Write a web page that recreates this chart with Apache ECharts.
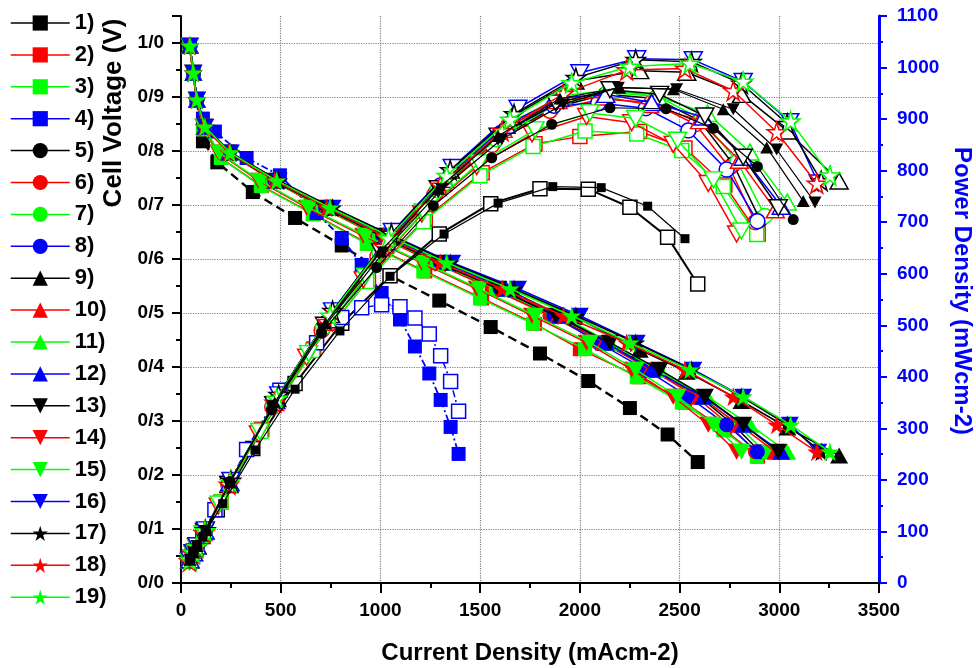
<!DOCTYPE html>
<html><head><meta charset="utf-8">
<script src="https://cdn.jsdelivr.net/npm/echarts@6/dist/echarts.min.js"></script>
<style>html,body{margin:0;padding:0;background:#fff}#c{width:976px;height:668px}</style>
</head><body><div id="c"></div>
<script>
// ---------- DATA ----------
const seriesNames = ['1)','2)','3)','4)','5)','6)','7)','8)','9)','10)','11)','12)','13)','14)','15)','16)','17)','18)','19)'];
const xTicks = [0,500,1000,1500,2000,2500,3000,3500];
const vTicks = [0,0.1,0.2,0.3,0.4,0.5,0.6,0.7,0.8,0.9,1.0];
const pTicks = [0,100,200,300,400,500,600,700,800,900,1000,1100];

// voltage steps (V)
const vStd  = [0.995,0.945,0.895,0.845,0.797,0.745,0.695,0.643,0.593,0.545,0.495,0.445,0.395,0.345,0.293,0.243];
const vSq   = [0.995,0.945,0.895,0.840,0.787,0.735,0.683,0.628,0.577,0.527,0.480,0.433,0.381,0.334,0.283,0.234];
const volt1 = [0.995,0.945,0.895,0.818,0.779,0.724,0.676,0.625,0.569,0.523,0.474,0.425,0.374,0.324,0.275,0.224];
const volt4 = [0.995,0.945,0.895,0.860,0.836,0.787,0.755,0.685,0.639,0.589,0.537,0.488,0.438,0.388,0.339,0.289,0.239];
const volt9 = [0.995,0.945,0.895,0.845,0.797,0.745,0.695,0.643,0.593,0.545,0.493,0.432,0.391,0.337,0.288,0.236];

// current densities (mA cm-2)
const cur1  = [45,62,78,110,182,360,572,806,1048,1295,1553,1800,2042,2251,2440,2591];
const cur2  = [42,60,78,110,200,405,665,940,1225,1510,1775,2000,2300,2527,2727,2894];
const cur3  = [42,60,78,110,200,400,660,931,1215,1499,1765,2026,2285,2511,2719,2887];
const cur4  = [45,62,80,110,170,329,496,680,806,906,1006,1098,1173,1245,1302,1352,1392];
const cur5  = [45,62,80,118,240,460,710,990,1280,1570,1860,2130,2380,2600,2770,2903];
const cur6  = [45,62,80,118,238,458,705,985,1270,1560,1850,2110,2360,2580,2750,2880];
const cur7  = [45,62,80,118,240,462,712,995,1285,1580,1870,2140,2390,2610,2790,2928];
const cur8  = [45,62,80,118,242,470,725,1010,1300,1600,1870,2092,2331,2544,2736,2890];
const cur9  = [45,62,80,120,240,480,750,1050,1350,1660,1975,2300,2536,2811,3040,3300];
const cur10 = [45,62,80,118,242,470,728,1020,1310,1615,1890,2120,2350,2600,2800,2980];
const cur11 = [45,62,80,120,245,475,735,1030,1320,1630,1910,2150,2390,2640,2853,3040];
const cur12 = [45,62,80,120,245,475,735,1030,1320,1630,1900,2130,2360,2619,2819,3010];
const cur13 = [45,62,80,118,240,465,720,1000,1290,1590,1880,2151,2400,2627,2819,2995];
const cur14 = [42,60,78,112,187,388,630,914,1207,1483,1760,2034,2260,2468,2644,2786];
const cur15 = [42,60,78,112,192,395,640,925,1215,1495,1775,2050,2280,2490,2670,2810];
const cur16 = [45,62,80,122,250,490,760,1060,1360,1690,2000,2285,2569,2819,3053,3195];
const cur17 = [45,62,80,122,250,490,760,1055,1350,1670,1980,2280,2560,2810,3040,3210];
const cur18 = [42,60,77,115,240,470,730,1015,1300,1610,1917,2235,2527,2769,2987,3188];
const cur19 = [45,62,79,120,246,480,747,1040,1332,1650,1959,2251,2552,2819,3057,3254];

// power densities (mW cm-2)
const pow1  = [45,59,70,90,142,261,387,504,596,677,736,765,764,729,671,580];
const pow2  = [42,57,70,92,157,298,454,590,707,796,852,866,876,844,772,677];
const pow3  = [42,57,70,92,157,294,451,585,701,790,847,877,871,839,769,676];
const pow4  = [45,59,72,95,142,259,374,466,515,534,540,536,514,483,441,391,333];
const pow5  = [45,59,72,100,191,343,493,637,759,856,921,948,940,897,812,705];
const pow6  = [45,59,72,100,190,341,490,633,753,850,916,939,932,890,806,700];
const pow7  = [45,59,72,100,191,344,495,640,762,861,926,952,944,900,817,712];
const pow8  = [45,59,72,100,193,350,504,649,771,872,926,931,921,878,802,702];
const pow9  = [45,59,72,101,191,358,521,675,801,905,974,994,991,948,877,780];
const pow10 = [45,59,72,100,193,350,506,656,777,880,936,943,928,897,820,724];
const pow11 = [45,59,72,101,195,354,511,662,783,888,945,957,944,911,836,739];
const pow12 = [45,59,72,101,195,354,511,662,783,888,941,948,932,904,826,731];
const pow13 = [45,59,72,100,191,346,500,643,765,867,931,957,948,906,826,728];
const pow14 = [42,57,70,95,149,289,438,588,716,808,871,905,893,851,775,677];
const pow15 = [42,57,70,95,153,294,445,595,720,815,879,912,901,859,782,683];
const pow16 = [45,59,72,103,199,365,528,682,806,921,990,1017,1015,973,895,776];
const pow17 = [45,59,72,103,199,365,528,678,801,910,980,1015,1011,969,891,780];
const pow18 = [42,57,69,97,191,350,507,653,771,877,949,995,998,955,875,775];
const pow19 = [45,59,71,101,196,358,519,669,790,899,970,1002,1008,973,896,791];

// extra black filled power curves visible in the figure
const dupSqCur   = [45,62,78,110,209,371,572,797,1048,1319,1590,1864,2107,2340,2527];
const dupSqPow   = [45,59,70,90,154,258,376,489,595,677,737,769,767,731,668];
const dupCirCur  = [45,62,80,125,246,455,705,981,1265,1558,1859,2151,2432,2669,2890,3070];
const dupCirPow  = [45,59,72,100,197,336,485,612,732,825,890,922,920,882,808,705];
const dupTriCur  = [45,62,80,122,245,470,725,1000,1290,1590,1900,2200,2469,2719,2937,3120];
const dupTriPow  = [45,59,72,103,195,350,504,643,765,867,940,961,958,919,845,741];
const dupDTriCur = [45,62,80,120,240,460,710,1014,1307,1608,1917,2193,2485,2769,2987,3179];
const dupDTriPow = [45,59,72,101,191,343,493,641,764,861,929,961,958,919,841,738];

// ---------- BUILD ----------
const currents = [cur1,cur2,cur3,cur4,cur5,cur6,cur7,cur8,cur9,cur10,cur11,cur12,cur13,cur14,cur15,cur16,cur17,cur18,cur19];
const voltages = [volt1,vSq,vSq,volt4,vStd,vStd,vStd,vStd,volt9,vStd,vStd,vStd,vStd,vStd,vStd,vStd,vStd,vStd,vStd];
const powers   = [pow1,pow2,pow3,pow4,pow5,pow6,pow7,pow8,pow9,pow10,pow11,pow12,pow13,pow14,pow15,pow16,pow17,pow18,pow19];

const FONT = '"Liberation Sans", Arial, Helvetica, sans-serif';
const colors = ['#000000','#ff0000','#00ff00','#0000ff'];
const STAR = 'path://M50,0L61.2,34.5L97.6,34.5L68.2,55.9L79.4,90.5L50,69.1L20.6,90.5L31.8,55.9L2.4,34.5L38.8,34.5Z';
const DTRI = 'path://M0,0L100,0L50,86.6Z';
const shapes = ['rect','circle','triangle',DTRI,STAR];
const sizes  = [14,15,[18,16],[18,16],19];
const pair = (xs, ys) => xs.map((x, k) => [x, ys[k]]);

const series = [];
const powerSeries = [];
for (let i = 0; i < 19; i++) {
  const c = colors[i % 4];
  const s = Math.min(Math.floor(i / 4), 4);
  let lt = 'solid', lw = 1.5;
  if (i === 0) { lt = [9,5]; lw = 2.4; }
  if (i === 3) { lt = [7,3,2,3]; lw = 1.8; }
  series.push({
    name: seriesNames[i], type: 'line', yAxisIndex: 0,
    data: pair(currents[i], voltages[i]),
    symbol: shapes[s], symbolSize: sizes[s], symbolKeepAspect: false,
    itemStyle: { color: c },
    lineStyle: { color: c, width: lw, type: lt },
    z: 3 + i * 0.01, animation: false
  });
  powerSeries.push({
    name: seriesNames[i] + ' P', type: 'line', yAxisIndex: 1,
    data: pair(currents[i], powers[i]),
    symbol: shapes[s], symbolSize: sizes[s], symbolKeepAspect: false,
    itemStyle: { color: '#ffffff', borderColor: c, borderWidth: 1.5 },
    lineStyle: { color: c, width: i === 0 ? 2 : 1.5, type: i === 3 ? [7,3,2,3] : 'solid' },
    z: 4 + i * 0.01, animation: false
  });
}
const dups = [
  [dupSqCur, dupSqPow, 'rect', 9],
  [dupCirCur, dupCirPow, 'circle', 11],
  [dupTriCur, dupTriPow, 'triangle', [13,12]],
  [dupDTriCur, dupDTriPow, DTRI, [13,12]]
].map((d, k) => ({
  name: 'extra' + k, type: 'line', yAxisIndex: 1,
  data: pair(d[0], d[1]), symbol: d[2], symbolSize: d[3],
  itemStyle: { color: '#000' }, lineStyle: { color: '#000', width: 1.2 },
  z: 5, animation: false
}));

const dotted = { type: 'dotted', color: '#808080', width: 1.2 };
const plain = v => String(Math.round(v));
const option = {
  backgroundColor: '#ffffff',
  animation: false,
  grid: { left: 181, right: 97, top: 16, bottom: 85, containLabel: false, outerBoundsMode: 'none' },
  legend: {
    data: seriesNames, orient: 'vertical', left: 10, top: 12, padding: 0,
    itemWidth: 59, itemHeight: 19, itemGap: 9.9, selectedMode: false,
    lineStyle: { type: 'solid', width: 1.5 },
    textStyle: { fontSize: 22, fontWeight: 'bold', color: '#000', fontFamily: FONT, lineHeight: 22 }
  },
  xAxis: {
    type: 'value', min: xTicks[0], max: xTicks[xTicks.length - 1], interval: 500,
    axisLine: { show: true, onZero: false, lineStyle: { color: '#000', width: 2 } },
    axisTick: { show: true, inside: false, length: 10, lineStyle: { color: '#000', width: 2 } },
    minorTick: { show: true, splitNumber: 2, length: 5, lineStyle: { color: '#000', width: 2 } },
    axisLabel: { color: '#000', fontWeight: 'bold', fontSize: 19, fontFamily: FONT, margin: 18, formatter: plain },
    splitLine: { show: true, lineStyle: dotted }
  },
  yAxis: [{
    type: 'value', position: 'left', min: vTicks[0], max: 1.05, interval: 0.1,
    axisLine: { show: true, onZero: false, lineStyle: { color: '#000', width: 2 } },
    axisTick: { show: true, inside: false, length: 9, lineStyle: { color: '#000', width: 2 } },
    minorTick: { show: true, splitNumber: 2, length: 5, lineStyle: { color: '#000', width: 2 } },
    axisLabel: { color: '#000', fontWeight: 'bold', fontSize: 19, fontFamily: FONT, margin: 17,
      showMaxLabel: false,
      formatter: v => (v <= 1.0001) ? v.toFixed(1).replace('.', '/') : '' },
    splitLine: { show: true, showMinLine: false, showMaxLine: false, lineStyle: dotted }
  }, {
    type: 'value', position: 'right', min: pTicks[0], max: pTicks[pTicks.length - 1], interval: 100,
    axisLine: { show: true, onZero: false, lineStyle: { color: '#0000ff', width: 3 } },
    axisTick: { show: true, inside: false, length: 8, lineStyle: { color: '#0000ff', width: 2 } },
    minorTick: { show: true, splitNumber: 2, length: 4, lineStyle: { color: '#0000ff', width: 2 } },
    axisLabel: { color: '#0000ff', fontWeight: 'bold', fontSize: 19, fontFamily: FONT, margin: 18, formatter: plain },
    splitLine: { show: false }
  }],
  graphic: [
    { type: 'text', x: 114, y: 113, rotation: Math.PI / 2,
      style: { text: 'Cell Voltage (V)', font: 'bold 26px ' + FONT, fill: '#000', textAlign: 'center', textVerticalAlign: 'middle' } },
    { type: 'text', x: 962, y: 291, rotation: -Math.PI / 2,
      style: { text: 'Power Density (mWcm-2)', font: 'bold 24px ' + FONT, fill: '#0000ff', textAlign: 'center', textVerticalAlign: 'middle' } },
    { type: 'text', x: 530, y: 653,
      style: { text: 'Current Density (mAcm-2)', font: 'bold 24px ' + FONT, fill: '#000', textAlign: 'center', textVerticalAlign: 'middle' } }
  ],
  series: series.concat(powerSeries, dups)
};
const chart = echarts.init(document.getElementById('c'), null, { renderer: 'canvas' });
chart.setOption(option);
</script></body></html>
